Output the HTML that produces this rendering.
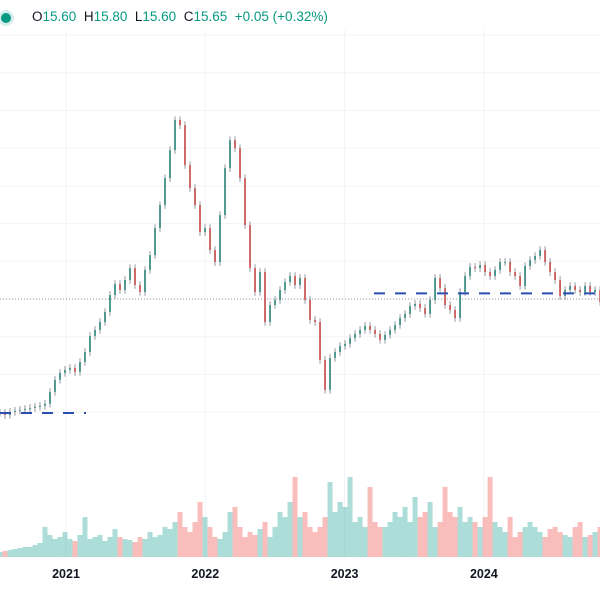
<!DOCTYPE html>
<html><head><meta charset="utf-8">
<style>
html,body{margin:0;padding:0;background:#fff;width:600px;height:600px;overflow:hidden;font-family:"Liberation Sans",sans-serif;}
#hdr{position:absolute;left:0;top:8px;height:20px;font-size:13.5px;color:#131722;white-space:nowrap}
#hdr .v{color:#089981}
#dot{position:absolute;left:1px;top:5px;width:10px;height:10px;border-radius:50%;background:#089981;box-shadow:0 0 0 3px #d6efec}
</style></head><body>
<svg id="chart" width="600" height="600" style="position:absolute;left:0;top:0"></svg>
<div id="hdr">
<span id="dot"></span>
<span style="position:absolute;left:32px;top:1px">O<span class="v">15.60</span>&nbsp; H<span class="v">15.80</span>&nbsp; L<span class="v">15.60</span>&nbsp; C<span class="v">15.65</span>&nbsp; <span class="v">+0.05 (+0.32%)</span></span>
</div>
<script>
const closes=[9.61,9.50,9.66,9.72,9.77,9.82,9.87,9.93,9.98,10.09,10.72,11.36,11.73,11.89,11.99,11.78,12.31,12.84,13.69,14.01,14.43,14.96,15.86,16.45,16.13,16.66,17.29,16.39,16.02,17.19,17.98,19.41,20.63,22.06,23.55,25.14,24.87,22.75,21.53,20.63,19.20,19.41,18.25,17.61,20.10,22.59,24.08,23.65,22.06,19.57,17.29,16.02,17.08,14.43,15.33,15.60,16.13,16.55,16.87,16.39,16.76,15.60,14.54,14.43,12.42,10.83,12.52,12.84,13.16,13.27,13.58,13.80,14.01,14.22,14.01,13.80,13.48,13.74,14.01,14.27,14.64,14.86,15.28,15.39,15.17,14.86,15.60,16.76,16.23,15.33,15.07,14.64,16.02,16.87,17.35,17.29,17.45,17.08,16.87,17.19,17.61,17.61,17.08,16.87,16.34,17.40,17.72,17.93,18.25,17.61,17.08,16.66,15.81,16.13,16.34,16.13,16.02,16.34,16.02,16.13,15.49];
const volumes=[5,6,7,8,9,10,10,12,14,30,22,18,20,25,18,16,22,40,18,20,22,16,20,28,20,18,17,15,20,18,25,20,22,30,28,35,45,30,25,35,55,40,30,20,18,25,45,50,30,20,25,22,28,35,20,30,45,40,55,80,40,45,30,25,30,40,75,45,55,50,80,35,40,30,70,35,30,30,35,45,40,50,35,60,40,45,55,30,35,70,45,40,50,35,40,35,30,40,80,35,30,25,40,20,25,30,35,30,25,20,28,30,25,22,20,30,35,20,22,25,30];
const yearTicks=[2021,2022,2023,2024];
const startYear=2020.526, stepYear=0.0359;
const lastPrice=15.65;
const levelA=9.6, levelB=15.95;

const NS="http://www.w3.org/2000/svg";
const svg=document.getElementById('chart');
function xOf(t){return 66+(t-2021)*139.3;}
function yOf(p){return 299-(p-15.65)*18.85;}
function yVol(v){return 557-v;}
function mk(tag,attrs,parent){const e=document.createElementNS(NS,tag);for(const k in attrs)e.setAttribute(k,attrs[k]);(parent||svg).appendChild(e);return e;}

const grid=mk('g',{});


for(let p=8;p<=30;p+=2){const y=yOf(p+1.65);if(y<30||y>555)continue;const l=mk('line',{x1:0,x2:600,y1:y,y2:y,stroke:'#f2f3f5','stroke-width':1},grid);

}
yearTicks.forEach(yr=>{const x=xOf(yr);const l=mk('line',{x1:x,x2:x,y1:30,y2:557,stroke:'#f2f3f5','stroke-width':1},grid);


const t=mk('text',{x:x,y:578,'text-anchor':'middle','font-size':12.5,'font-weight':'bold',fill:'#131722','font-family':'Liberation Sans, sans-serif'});
t.textContent=yr;

});

const vg=mk('g',{});


volumes.forEach((v,i)=>{const t=startYear+i*stepYear;const x=xOf(t);const up=i===0||closes[i]>=closes[i-1];
const r=mk('rect',{x:x-2.5,y:yVol(v),width:5,height:v,fill:up?'rgba(38,166,154,0.38)':'rgba(239,83,80,0.38)'},vg);

});

const pl=mk('line',{x1:0,x2:600,y1:yOf(lastPrice),y2:yOf(lastPrice),stroke:'#9598a1','stroke-width':1,'stroke-dasharray':'1 2'});



const cg=mk('g',{});


closes.forEach((c,i)=>{const o=i===0?c:closes[i-1];const t=startYear+i*stepYear;const x=xOf(t);
const hi=Math.max(o,c)+0.2, lo=Math.min(o,c)-0.2;const up=c>=o;const col=up?'#3f8f86':'#c95a58';
const w=mk('line',{x1:x,x2:x,y1:yOf(hi),y2:yOf(lo),stroke:'#7a7d85','stroke-width':0.8},cg);


const top=yOf(Math.max(o,c)),bot=yOf(Math.min(o,c));
const b=mk('rect',{x:x-0.9,y:top,width:1.8,height:Math.max(1,bot-top),fill:col},cg);

});

const la=mk('line',{x1:0,x2:86,y1:yOf(levelA),y2:yOf(levelA),stroke:'#2a4fb0','stroke-width':2,'stroke-dasharray':'11 10'});


const lb=mk('line',{x1:374,x2:600,y1:yOf(levelB),y2:yOf(levelB),stroke:'#2a4fb0','stroke-width':2,'stroke-dasharray':'11 10'});


</script>
</body></html>
